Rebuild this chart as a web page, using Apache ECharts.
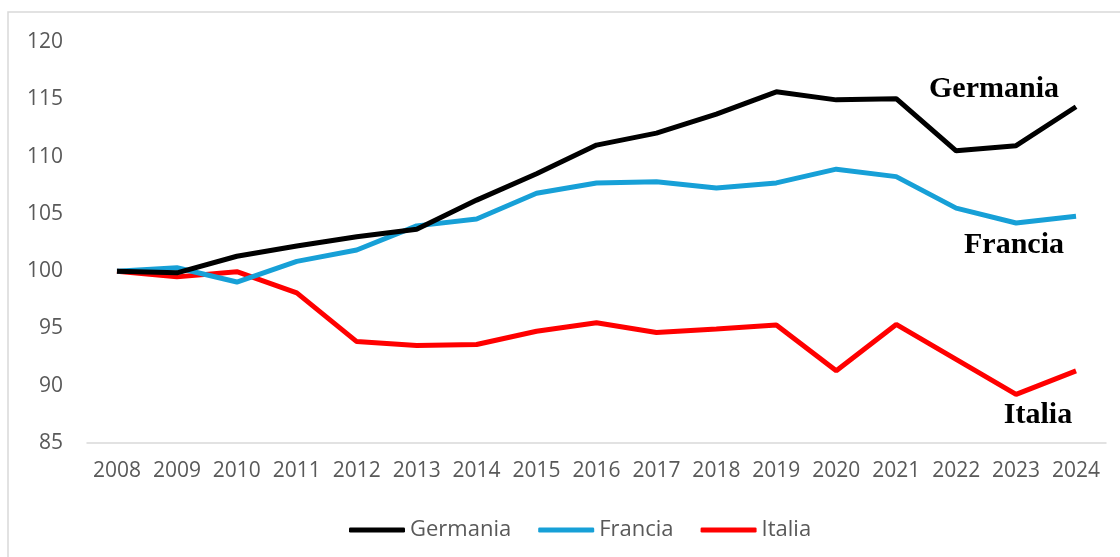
<!DOCTYPE html>
<html>
<head>
<meta charset="utf-8">
<script src="https://cdn.jsdelivr.net/npm/echarts@6/dist/echarts.min.js"></script>
<style>
html,body{margin:0;padding:0;background:#fff;}
#chart{width:1120px;height:557px;}
</style>
</head>
<body>
<div id="chart"></div>
<script>
const years = ['2008','2009','2010','2011','2012','2013','2014','2015','2016','2017','2018','2019','2020','2021','2022','2023','2024'];
const germania = [100.0, 99.85, 101.3, 102.2, 103.0, 103.65, 106.2, 108.5, 111.0, 112.05, 113.7, 115.65, 114.95, 115.05, 110.5, 110.95, 114.35];
const francia  = [100.0, 100.3, 99.05, 100.85, 101.85, 103.95, 104.55, 106.8, 107.7, 107.8, 107.25, 107.7, 108.9, 108.25, 105.5, 104.2, 104.8];
const italia   = [100.0, 99.5, 99.95, 98.1, 93.85, 93.5, 93.6, 94.75, 95.5, 94.65, 94.95, 95.3, 91.3, 95.35, 92.3, 89.25, 91.3];
const seriesNames = ['Germania','Francia','Italia'];
const yTicks = {min: 85, max: 120, interval: 5};

const colors = ['#000000', '#17A0D7', '#FF0000'];
const dataSets = [germania, francia, italia];

const chart = echarts.init(document.getElementById('chart'), null, {renderer: 'canvas'});
const labelFont = '"Open Sans", "Liberation Sans", sans-serif';
const option = {
  backgroundColor: '#ffffff',
  animation: false,
  grid: {left: 87, right: 14, top: 42, bottom: 114},
  xAxis: {
    type: 'category',
    data: years,
    boundaryGap: true,
    axisTick: {show: false},
    axisLine: {lineStyle: {color: '#D9D9D9', width: 1.5}},
    axisLabel: {color: '#595959', fontSize: 21, fontFamily: labelFont, margin: 18, interval: 0}
  },
  yAxis: {
    type: 'value',
    min: yTicks.min, max: yTicks.max, interval: yTicks.interval,
    axisLine: {show: false},
    axisTick: {show: false},
    splitLine: {show: false},
    axisLabel: {color: '#595959', fontSize: 21, fontFamily: labelFont, margin: 24}
  },
  legend: {
    left: 344, top: 514,
    icon: 'roundRect',
    itemWidth: 56, itemHeight: 5,
    itemGap: 27,
    textStyle: {color: '#595959', fontSize: 22, fontFamily: labelFont},
    data: seriesNames
  },
  series: seriesNames.map((name, i) => ({
    name: name,
    type: 'line',
    data: dataSets[i],
    symbol: 'none',
    lineStyle: {color: colors[i], width: 5},
    itemStyle: {color: colors[i]},
    z: 3 - i
  })),
  graphic: [
    {type: 'rect', shape: {x: 8, y: 12, width: 1300, height: 700}, style: {fill: 'none', stroke: '#D9D9D9', lineWidth: 1.5}, z: -1, silent: true},
    {type: 'text', x: 994, y: 89, style: {text: 'Germania', font: 'bold 30px "Liberation Serif", serif', fill: '#000', textAlign: 'center', textVerticalAlign: 'middle'}},
    {type: 'text', x: 1014, y: 245, style: {text: 'Francia', font: 'bold 30px "Liberation Serif", serif', fill: '#000', textAlign: 'center', textVerticalAlign: 'middle'}},
    {type: 'text', x: 1038, y: 415, style: {text: 'Italia', font: 'bold 30px "Liberation Serif", serif', fill: '#000', textAlign: 'center', textVerticalAlign: 'middle'}}
  ]
};
chart.setOption(option);
</script>
</body>
</html>
